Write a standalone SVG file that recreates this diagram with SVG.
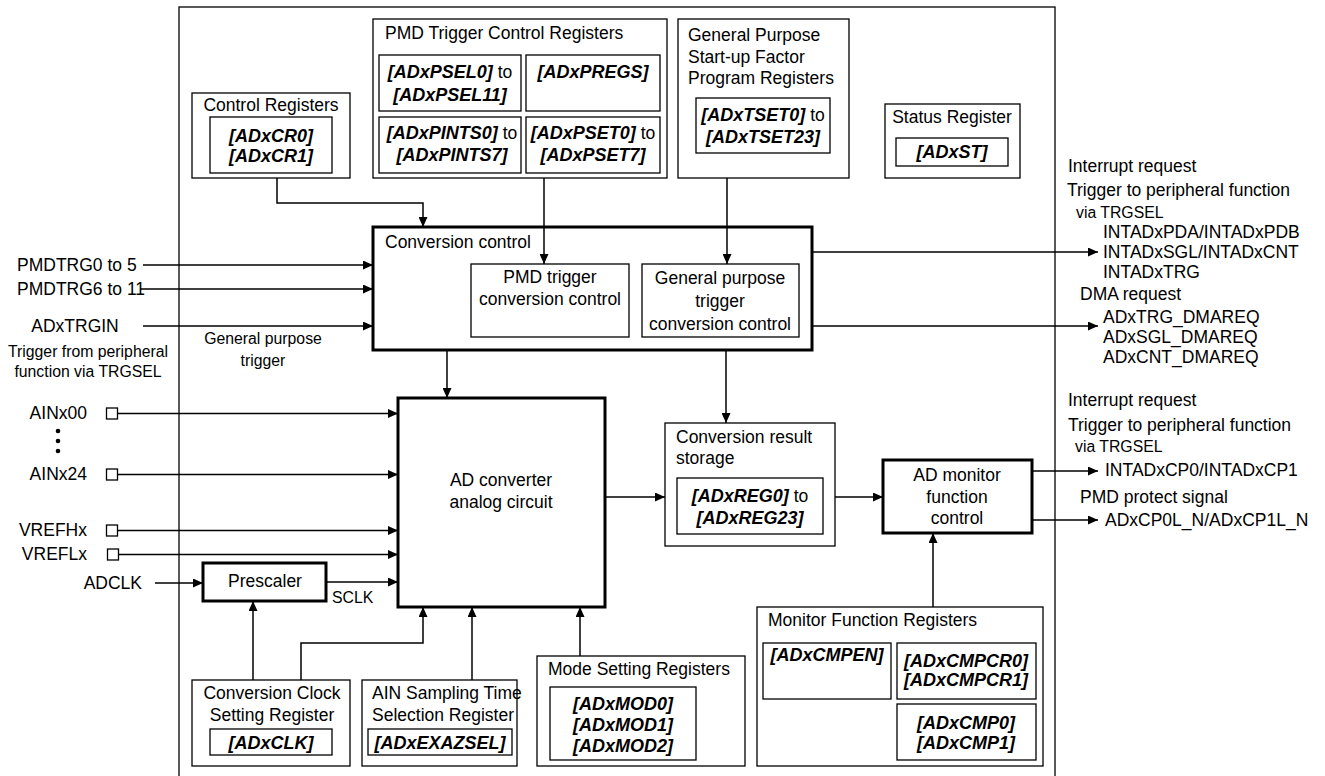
<svg xmlns="http://www.w3.org/2000/svg" width="1325" height="776" viewBox="0 0 1325 776">
<style>
text{font-family:"Liberation Sans",Arial,Helvetica,sans-serif;font-size:17.5px;fill:#000}
.b{font-weight:bold;font-style:italic;font-size:18px}
.r{font-weight:normal;font-style:normal;font-size:17.5px}
.s{font-size:15.8px}
.m{text-anchor:middle}
.e{text-anchor:end}
.box{fill:#fff;stroke:#000;stroke-width:1.3}
.thick{fill:#fff;stroke:#000;stroke-width:3}
.ln{fill:none;stroke:#000;stroke-width:1.5}
.arr{fill:none;stroke:#000;stroke-width:1.5;marker-end:url(#ah)}
.pin{fill:#fff;stroke:#000;stroke-width:1.3}
</style>
<defs>
<marker id="ah" markerUnits="userSpaceOnUse" markerWidth="10" markerHeight="9" refX="10" refY="4.5" orient="auto">
<path d="M0,0 L10,4.5 L0,9 z" fill="#000"/>
</marker>
</defs>
<rect width="1325" height="776" fill="#fff"/>
<g id="frame"><rect x="179" y="7" width="876" height="800" fill="none" stroke="#000" stroke-width="1.3"/></g>

<g id="control-registers">
<rect class="box" x="192" y="93" width="158" height="85"/>
<text class="m" x="271" y="111">Control Registers</text>
<rect class="box" x="210" y="117" width="122" height="56"/>
<text class="b m" x="271" y="141.5">[ADxCR0]</text>
<text class="b m" x="271" y="161.5">[ADxCR1]</text>
</g>

<g id="pmd-trigger-registers">
<rect class="box" x="373" y="19" width="294" height="159"/>
<text x="385" y="39">PMD Trigger Control Registers</text>
<rect class="box" x="379" y="55" width="142" height="56"/>
<text class="b m" x="450" y="78">[ADxPSEL0]<tspan class="r"> to</tspan></text>
<text class="b m" x="450" y="101">[ADxPSEL11]</text>
<rect class="box" x="526" y="55" width="134" height="56"/>
<text class="b m" x="593" y="78">[ADxPREGS]</text>
<rect class="box" x="379" y="117" width="142" height="56"/>
<text class="b m" x="452" y="139">[ADxPINTS0]<tspan class="r"> to</tspan></text>
<text class="b m" x="452" y="161">[ADxPINTS7]</text>
<rect class="box" x="526" y="117" width="134" height="56"/>
<text class="b m" x="593" y="139">[ADxPSET0]<tspan class="r"> to</tspan></text>
<text class="b m" x="593" y="161">[ADxPSET7]</text>
</g>

<g id="gp-startup-registers">
<rect class="box" x="678" y="19" width="171" height="159"/>
<text x="688" y="41">General Purpose</text>
<text x="688" y="63">Start-up Factor</text>
<text x="688" y="84">Program Registers</text>
<rect class="box" x="696" y="98" width="134" height="55"/>
<text class="b m" x="763" y="121">[ADxTSET0]<tspan class="r"> to</tspan></text>
<text class="b m" x="763" y="143">[ADxTSET23]</text>
</g>

<g id="status-register">
<rect class="box" x="885" y="104" width="135" height="74"/>
<text class="m" x="952" y="123">Status Register</text>
<rect class="box" x="896" y="138" width="112" height="28"/>
<text class="b m" x="952" y="158">[ADxST]</text>
</g>

<g id="conversion-control">
<rect class="thick" x="373" y="227" width="439" height="123"/>
<text x="385" y="248">Conversion control</text>
<rect class="box" x="471" y="264" width="158" height="73"/>
<text class="m" x="550" y="283">PMD trigger</text>
<text class="m" x="550" y="305">conversion control</text>
<rect class="box" x="642" y="264" width="157" height="73"/>
<text class="m" x="720" y="284">General purpose</text>
<text class="m" x="720" y="307">trigger</text>
<text class="m" x="720" y="330">conversion control</text>
</g>

<g id="ad-converter">
<rect class="thick" x="398" y="398" width="207" height="209"/>
<text class="m" x="501" y="486">AD converter</text>
<text class="m" x="501" y="508">analog circuit</text>
</g>

<g id="prescaler">
<rect class="thick" x="203" y="563" width="123" height="38"/>
<text class="m" x="265" y="587">Prescaler</text>
</g>

<g id="conversion-result">
<rect class="box" x="665" y="423" width="170" height="123"/>
<text x="676" y="443">Conversion result</text>
<text x="676" y="464">storage</text>
<rect class="box" x="677" y="478" width="146" height="56"/>
<text class="b m" x="750" y="501.5">[ADxREG0]<tspan class="r"> to</tspan></text>
<text class="b m" x="750" y="523.5">[ADxREG23]</text>
</g>

<g id="ad-monitor">
<rect class="thick" x="883" y="460" width="149" height="73"/>
<text class="m" x="957" y="481">AD monitor</text>
<text class="m" x="957" y="503">function</text>
<text class="m" x="957" y="524">control</text>
</g>

<g id="clock-setting-register">
<rect class="box" x="192" y="680" width="158" height="86"/>
<text class="m" x="272" y="699">Conversion Clock</text>
<text class="m" x="272" y="721">Setting Register</text>
<rect class="box" x="210" y="729" width="122" height="26"/>
<text class="b m" x="271" y="748.5">[ADxCLK]</text>
</g>

<g id="sampling-time-register">
<rect class="box" x="362" y="680" width="155" height="86"/>
<text x="372" y="699">AIN Sampling Time</text>
<text x="372" y="721">Selection Register</text>
<rect class="box" x="368" y="729" width="144" height="26"/>
<text class="b m" x="440" y="748.5">[ADxEXAZSEL]</text>
</g>

<g id="mode-setting-registers">
<rect class="box" x="537" y="656" width="208" height="110"/>
<text x="548" y="675">Mode Setting Registers</text>
<rect class="box" x="550" y="687" width="146" height="73"/>
<text class="b m" x="623" y="709.5">[ADxMOD0]</text>
<text class="b m" x="623" y="730.5">[ADxMOD1]</text>
<text class="b m" x="623" y="751.5">[ADxMOD2]</text>
</g>

<g id="monitor-function-registers">
<rect class="box" x="757" y="607" width="286" height="159"/>
<text x="768" y="626">Monitor Function Registers</text>
<rect class="box" x="763" y="643" width="128" height="56"/>
<text class="b m" x="827" y="660.5">[ADxCMPEN]</text>
<rect class="box" x="897" y="643" width="139" height="56"/>
<text class="b m" x="966" y="666.5">[ADxCMPCR0]</text>
<text class="b m" x="966" y="685.5">[ADxCMPCR1]</text>
<rect class="box" x="897" y="704" width="139" height="56"/>
<text class="b m" x="966" y="728.5">[ADxCMP0]</text>
<text class="b m" x="966" y="748.5">[ADxCMP1]</text>
</g>

<g id="inputs">
<text x="17" y="271">PMDTRG0 to 5</text>
<text x="17" y="295">PMDTRG6 to 11</text>
<text class="m" x="75" y="332">ADxTRGIN</text>
<text class="s m" x="88" y="357">Trigger from peripheral</text>
<text class="s m" x="88" y="377">function via TRGSEL</text>
<text class="s m" x="263" y="344">General purpose</text>
<text class="s m" x="263" y="366">trigger</text>
<text class="e" x="87" y="419">AINx00</text>
<circle cx="58" cy="431" r="2.3"/>
<circle cx="58" cy="441" r="2.3"/>
<circle cx="58" cy="451" r="2.3"/>
<text class="e" x="87" y="480">AINx24</text>
<text class="e" x="87" y="536">VREFHx</text>
<text class="e" x="87" y="560">VREFLx</text>
<text class="e" x="142" y="589">ADCLK</text>
<text class="s" x="332" y="603">SCLK</text>
<rect class="pin" x="106.5" y="408" width="11" height="11"/>
<rect class="pin" x="106.5" y="469" width="11" height="11"/>
<rect class="pin" x="106.5" y="525" width="11" height="11"/>
<rect class="pin" x="107.5" y="549" width="11" height="11"/>
</g>

<g id="outputs">
<text x="1068" y="172">Interrupt request</text>
<text x="1067" y="196">Trigger to peripheral function</text>
<text class="s" x="1076" y="218">via TRGSEL</text>
<text x="1103" y="238">INTADxPDA/INTADxPDB</text>
<text x="1103" y="258">INTADxSGL/INTADxCNT</text>
<text x="1103" y="278">INTADxTRG</text>
<text x="1080" y="300">DMA request</text>
<text x="1103" y="323">ADxTRG_DMAREQ</text>
<text x="1103" y="343">ADxSGL_DMAREQ</text>
<text x="1103" y="363">ADxCNT_DMAREQ</text>
<text x="1068" y="406">Interrupt request</text>
<text x="1068" y="431">Trigger to peripheral function</text>
<text class="s" x="1075" y="452">via TRGSEL</text>
<text x="1105" y="476">INTADxCP0/INTADxCP1</text>
<text x="1080" y="503">PMD protect signal</text>
<text x="1105" y="526">ADxCP0L_N/ADxCP1L_N</text>
</g>

<g id="connectors">
<path class="arr" d="M277,178 V203 H423 V227"/>
<path class="arr" d="M544,178 V264"/>
<path class="arr" d="M727,178 V264"/>
<path class="arr" d="M143,265 H373"/>
<path class="arr" d="M140,289 H373"/>
<path class="arr" d="M143,326 H373"/>
<path class="arr" d="M812,252 H1098"/>
<path class="arr" d="M812,326 H1098"/>
<path class="arr" d="M447,350 V398"/>
<path class="arr" d="M726,350 V423"/>
<path class="arr" d="M117.5,413.5 H398"/>
<path class="arr" d="M117.5,474.5 H398"/>
<path class="arr" d="M117.5,530.5 H398"/>
<path class="arr" d="M118.5,554.5 H398"/>
<path class="arr" d="M155,583 H203"/>
<path class="arr" d="M326,582 H398"/>
<path class="arr" d="M605,497 H665"/>
<path class="arr" d="M835,497 H883"/>
<path class="arr" d="M1032,471 H1098"/>
<path class="arr" d="M1032,520 H1098"/>
<path class="arr" d="M933,607 V533"/>
<path class="arr" d="M253,680 V601"/>
<path class="arr" d="M301,680 V643 H423 V607"/>
<path class="arr" d="M472,680 V607"/>
<path class="arr" d="M580,656 V607"/>
</g>
</svg>
